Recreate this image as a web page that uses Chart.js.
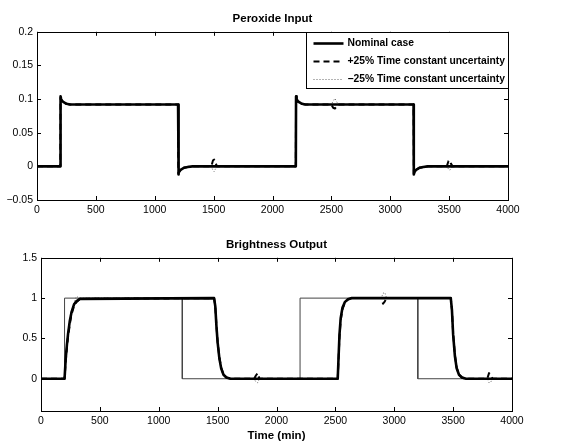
<!DOCTYPE html>
<html>
<head>
<meta charset="utf-8">
<script src="https://cdn.jsdelivr.net/npm/chart.js@4.4.0/dist/chart.umd.min.js"></script>
<style>
    body { margin: 0; background: #fff; }
    canvas { position: absolute; left: 0; }
    #chartTop { top: 0; }
    #chartBottom { top: 220px; }
</style>
</head>
<body>
<canvas id="chartTop" width="578" height="220"></canvas>
<canvas id="chartBottom" width="578" height="223"></canvas>
<script>
// tick labels
const xTicks = [0, 500, 1000, 1500, 2000, 2500, 3000, 3500, 4000];
const yTicksTop = [-0.05, 0, 0.05, 0.1, 0.15, 0.2];
const yTicksBottom = [0, 0.5, 1, 1.5];

// series names
const seriesNames = ['Nominal case', '+25% Time constant uncertainty', '\u221225% Time constant uncertainty'];

// Peroxide input (top)
const perTime = [0, 198, 200, 205, 215, 230, 250, 280, 320, 1198, 1200, 1205, 1215, 1230, 1250, 1280, 1320, 2198, 2200, 2205, 2215, 2230, 2250, 2280, 2320, 3198, 3200, 3205, 3215, 3230, 3250, 3280, 3320, 4000];
const perNominal = [0, 0, 0.104, 0.100, 0.097, 0.095, 0.093, 0.092, 0.092, 0.092, -0.012, -0.009, -0.006, -0.004, -0.002, -0.001, 0, 0, 0.104, 0.100, 0.097, 0.095, 0.093, 0.092, 0.092, 0.092, -0.012, -0.009, -0.006, -0.004, -0.002, -0.001, 0, 0];

const perTimeUnc = [0, 198, 200, 205, 215, 230, 250, 280, 320, 1198, 1200, 1205, 1215, 1230, 1250, 1280, 1320, 1480, 1495, 1505, 1515, 1530, 2198, 2200, 2205, 2215, 2230, 2250, 2280, 2320, 2500, 2515, 2530, 2545, 2560, 3198, 3200, 3205, 3215, 3230, 3250, 3280, 3320, 3480, 3495, 3505, 3515, 3530, 4000];
const perPlus = [0, 0, 0.102, 0.099, 0.096, 0.094, 0.093, 0.092, 0.092, 0.092, -0.011, -0.009, -0.006, -0.004, -0.002, -0.001, 0, 0, 0.009, 0.010, 0.005, 0, 0, 0.102, 0.099, 0.096, 0.094, 0.093, 0.092, 0.092, 0.092, 0.087, 0.086, 0.089, 0.092, 0.092, -0.011, -0.009, -0.006, -0.004, -0.002, -0.001, 0, 0, 0.008, 0.009, 0.004, 0, 0];
const perMinus = [0, 0, 0.105, 0.101, 0.098, 0.095, 0.093, 0.092, 0.092, 0.092, -0.013, -0.009, -0.005, -0.003, -0.001, 0, 0, 0, -0.006, -0.008, -0.004, 0, 0, 0.105, 0.101, 0.098, 0.095, 0.093, 0.092, 0.092, 0.092, 0.097, 0.101, 0.096, 0.092, 0.092, -0.013, -0.009, -0.005, -0.003, -0.001, 0, 0, 0, -0.004, -0.006, -0.003, 0, 0];

// Brightness output (bottom)
const setTime = [0, 200, 200, 1200, 1200, 2200, 2200, 3200, 3200, 4000];
const setValue = [0, 0, 1, 1, 0, 0, 1, 1, 0, 0];

const brTime = [0, 200, 210, 220, 230, 245, 260, 280, 300, 330, 1470, 1480, 1490, 1500, 1515, 1530, 1550, 1575, 1610, 2520, 2528, 2535, 2545, 2560, 2580, 2605, 2640, 3480, 3490, 3500, 3515, 3530, 3550, 3575, 3610, 4000];
const brNominal = [0, 0, 0.25, 0.42, 0.56, 0.72, 0.83, 0.92, 0.96, 0.99, 1, 0.9, 0.65, 0.45, 0.25, 0.13, 0.05, 0.015, 0, 0, 0.3, 0.55, 0.75, 0.88, 0.95, 0.985, 1, 1, 0.85, 0.55, 0.28, 0.13, 0.05, 0.015, 0, 0];

const brTimeUnc = [0, 200, 210, 220, 230, 245, 260, 280, 300, 330, 1470, 1480, 1490, 1500, 1515, 1530, 1550, 1575, 1610, 1810, 1825, 1840, 1855, 2520, 2528, 2535, 2545, 2560, 2580, 2605, 2640, 2890, 2905, 2920, 2935, 3480, 3490, 3500, 3515, 3530, 3550, 3575, 3610, 3790, 3805, 3820, 3835, 4000];
const brPlus = [0, 0, 0.22, 0.38, 0.52, 0.68, 0.8, 0.9, 0.95, 0.99, 1, 0.9, 0.66, 0.46, 0.26, 0.14, 0.05, 0.015, 0, 0, 0.04, 0.07, 0, 0, 0.28, 0.52, 0.72, 0.86, 0.94, 0.98, 1, 1, 0.93, 0.96, 1, 1, 0.86, 0.57, 0.3, 0.14, 0.05, 0.015, 0, 0, 0.07, 0.04, 0, 0];
const brMinus = [0, 0, 0.28, 0.45, 0.6, 0.75, 0.86, 0.94, 1.02, 1, 1, 0.9, 0.64, 0.44, 0.24, 0.12, 0.04, 0.01, 0, 0, -0.04, -0.05, 0, 0, 0.32, 0.58, 0.78, 0.9, 0.96, 0.99, 1, 1, 1.06, 1.07, 1, 1, 0.84, 0.53, 0.26, 0.12, 0.04, 0.01, 0, 0, -0.05, -0.04, 0, 0];

function pts(xs, ys) {
    return xs.map((x, i) => ({ x: x, y: ys[i] }));
}

function fmt(v) {
    return v < 0 ? '\u2212' + String(-v) : String(v);
}

const fontFamily = "'Liberation Sans', Arial, Helvetica, sans-serif";
Chart.defaults.font.family = fontFamily;
Chart.defaults.font.size = 10.5;
Chart.defaults.color = '#000';

// line styles for the three cases
const styleNominal = { borderColor: '#000', borderWidth: 2.6, borderJoinStyle: 'round' };
const stylePlus = { borderColor: '#000', borderWidth: 2, borderDash: [6, 4], borderJoinStyle: 'round' };
const styleMinus = { borderColor: '#666', borderWidth: 1, borderDash: [1, 2], borderJoinStyle: 'round' };

// frame with inward ticks on all four sides (MATLAB look)
const frameTicks = {
    id: 'frameTicks',
    afterDraw(chart) {
        const ctx = chart.ctx;
        const a = chart.chartArea;
        const xs = chart.scales.x;
        const ys = chart.scales.y;
        const len = 4;
        ctx.save();
        ctx.strokeStyle = '#000';
        ctx.lineWidth = 1;
        ctx.beginPath();
        xs.ticks.forEach(t => {
            const px = Math.round(xs.getPixelForValue(t.value)) + 0.5;
            ctx.moveTo(px, a.bottom); ctx.lineTo(px, a.bottom - len);
            ctx.moveTo(px, a.top); ctx.lineTo(px, a.top + len);
        });
        ys.ticks.forEach(t => {
            const py = Math.round(ys.getPixelForValue(t.value)) + 0.5;
            ctx.moveTo(a.left, py); ctx.lineTo(a.left + len, py);
            ctx.moveTo(a.right, py); ctx.lineTo(a.right - len, py);
        });
        ctx.stroke();
        ctx.strokeRect(Math.round(a.left) + 0.5, Math.round(a.top) + 0.5, Math.round(a.right - a.left), Math.round(a.bottom - a.top));
        ctx.restore();
    }
};

// legend box in the upper right corner of the top plot
const legendBox = {
    id: 'legendBox',
    afterDraw(chart) {
        const ctx = chart.ctx;
        const a = chart.chartArea;
        const w = 202, h = 56;
        const left = Math.round(a.right - w) + 0.5;
        const top = Math.round(a.top) + 0.5;
        ctx.save();
        ctx.fillStyle = '#fff';
        ctx.fillRect(left, top, w, h);
        ctx.strokeStyle = '#000';
        ctx.lineWidth = 1;
        ctx.strokeRect(left, top, w, h);
        chart.data.datasets.forEach((ds, i) => {
            const y = top + 11 + i * 18;
            ctx.beginPath();
            ctx.strokeStyle = ds.borderColor;
            ctx.lineWidth = ds.borderWidth;
            ctx.setLineDash(ds.borderDash || []);
            ctx.moveTo(left + 7, y);
            ctx.lineTo(left + 37, y);
            ctx.stroke();
            ctx.setLineDash([]);
            ctx.fillStyle = '#000';
            ctx.font = 'bold 10.3px ' + fontFamily;
            ctx.textBaseline = 'middle';
            ctx.fillText(ds.label, left + 41, y);
        });
        ctx.restore();
    }
};

function makeScales(yMin, yMax, yTicks, yWidth, xHeight, xTitle) {
    return {
        x: {
            type: 'linear',
            min: 0,
            max: 4000,
            afterBuildTicks: s => { s.ticks = xTicks.map(v => ({ value: v })); },
            afterFit: s => { s.height = xHeight; },
            grid: { display: false, drawTicks: false },
            border: { display: false },
            ticks: { padding: 4, maxRotation: 0, callback: v => fmt(v) },
            title: xTitle ? { display: true, text: xTitle, font: { weight: 'bold', size: 11.5 }, padding: { top: 0, bottom: 0 } } : { display: false }
        },
        y: {
            type: 'linear',
            min: yMin,
            max: yMax,
            afterBuildTicks: s => { s.ticks = yTicks.map(v => ({ value: v })); },
            afterFit: s => { s.width = yWidth; },
            grid: { display: false, drawTicks: false },
            border: { display: false },
            ticks: { padding: 4, callback: v => fmt(v) }
        }
    };
}

new Chart(document.getElementById('chartTop').getContext('2d'), {
    type: 'line',
    data: {
        datasets: [
            Object.assign({ label: seriesNames[0], data: pts(perTime, perNominal) }, styleNominal),
            Object.assign({ label: seriesNames[1], data: pts(perTimeUnc, perPlus) }, stylePlus),
            Object.assign({ label: seriesNames[2], data: pts(perTimeUnc, perMinus) }, styleMinus)
        ]
    },
    options: {
        responsive: false,
        animation: false,
        parsing: false,
        elements: { point: { radius: 0 }, line: { tension: 0 } },
        layout: { padding: { left: 0, right: 70, top: 0, bottom: 0 } },
        scales: makeScales(-0.05, 0.2, yTicksTop, 37, 20, null),
        plugins: {
            legend: { display: false },
            tooltip: { enabled: false },
            title: {
                display: true,
                text: 'Peroxide Input',
                fullSize: false,
                font: { weight: 'bold', size: 11.5 },
                padding: { top: 12, bottom: 6 }
            }
        }
    },
    plugins: [frameTicks, legendBox]
});

new Chart(document.getElementById('chartBottom').getContext('2d'), {
    type: 'line',
    data: {
        datasets: [
            Object.assign({ label: seriesNames[0], data: pts(brTime, brNominal) }, styleNominal),
            Object.assign({ label: seriesNames[1], data: pts(brTimeUnc, brPlus) }, stylePlus),
            Object.assign({ label: seriesNames[2], data: pts(brTimeUnc, brMinus) }, styleMinus),
            { label: 'Setpoint', data: pts(setTime, setValue), borderColor: '#444', borderWidth: 1 }
        ]
    },
    options: {
        responsive: false,
        animation: false,
        parsing: false,
        elements: { point: { radius: 0 }, line: { tension: 0 } },
        layout: { padding: { left: 0, right: 66, top: 0, bottom: 0 } },
        scales: makeScales(-0.4, 1.5, yTicksBottom, 41, 32, 'Time (min)'),
        plugins: {
            legend: { display: false },
            tooltip: { enabled: false },
            title: {
                display: true,
                text: 'Brightness Output',
                fullSize: false,
                font: { weight: 'bold', size: 11.5 },
                padding: { top: 18, bottom: 6 }
            }
        }
    },
    plugins: [frameTicks]
});
</script>
</body>
</html>
